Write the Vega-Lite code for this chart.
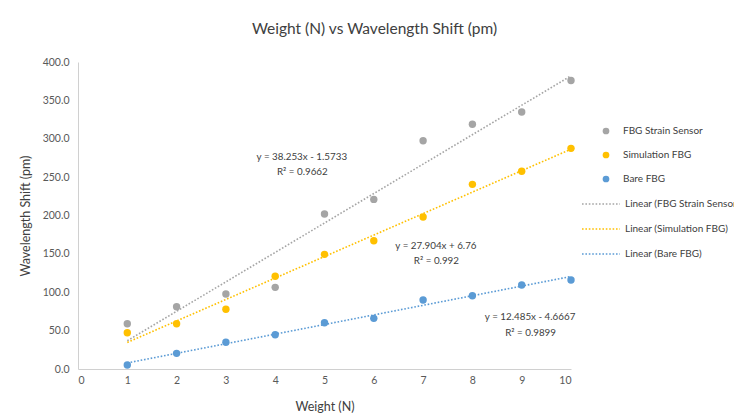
{
  "$schema": "https://vega.github.io/schema/vega-lite/v6.json",
  "width": 493,
  "height": 307,
  "autosize": {"type": "none"},
  "padding": {"left": 78, "top": 62, "right": 163, "bottom": 50},
  "background": "white",
  "config": {
    "view": {"stroke": null},
    "font": "Lato",
    "axis": {"labelFont": "Lato", "titleFont": "Lato", "labelColor": "#595959", "titleColor": "#404040", "labelFontSize": 10.5, "titleFontSize": 12.5, "titleFontWeight": "normal", "grid": false, "ticks": false, "domainColor": "#D0D0D0", "domainWidth": 1}
  },
  "title": {"text": "Weight (N) vs Wavelength Shift (pm)", "font": "Lato", "fontSize": 15.5, "fontWeight": "normal", "color": "#404040", "dx": 50, "offset": 20},
  "datasets": {
    "obs": [
      {"weight": 1, "shift": 59, "series": "FBG Strain Sensor"},
      {"weight": 2, "shift": 81, "series": "FBG Strain Sensor"},
      {"weight": 3, "shift": 97.7, "series": "FBG Strain Sensor"},
      {"weight": 4, "shift": 106.4, "series": "FBG Strain Sensor"},
      {"weight": 5, "shift": 202, "series": "FBG Strain Sensor"},
      {"weight": 6, "shift": 221, "series": "FBG Strain Sensor"},
      {"weight": 7, "shift": 297.5, "series": "FBG Strain Sensor"},
      {"weight": 8, "shift": 318.8, "series": "FBG Strain Sensor"},
      {"weight": 9, "shift": 334.9, "series": "FBG Strain Sensor"},
      {"weight": 10, "shift": 376, "series": "FBG Strain Sensor"},
      {"weight": 1, "shift": 47.3, "series": "Simulation FBG"},
      {"weight": 2, "shift": 59, "series": "Simulation FBG"},
      {"weight": 3, "shift": 77.8, "series": "Simulation FBG"},
      {"weight": 4, "shift": 120.8, "series": "Simulation FBG"},
      {"weight": 5, "shift": 149.4, "series": "Simulation FBG"},
      {"weight": 6, "shift": 167.2, "series": "Simulation FBG"},
      {"weight": 7, "shift": 198, "series": "Simulation FBG"},
      {"weight": 8, "shift": 240.6, "series": "Simulation FBG"},
      {"weight": 9, "shift": 257.6, "series": "Simulation FBG"},
      {"weight": 10, "shift": 287.5, "series": "Simulation FBG"},
      {"weight": 1, "shift": 5.2, "series": "Bare FBG"},
      {"weight": 2, "shift": 20.4, "series": "Bare FBG"},
      {"weight": 3, "shift": 34.8, "series": "Bare FBG"},
      {"weight": 4, "shift": 44.7, "series": "Bare FBG"},
      {"weight": 5, "shift": 60.3, "series": "Bare FBG"},
      {"weight": 6, "shift": 66, "series": "Bare FBG"},
      {"weight": 7, "shift": 89.9, "series": "Bare FBG"},
      {"weight": 8, "shift": 95.5, "series": "Bare FBG"},
      {"weight": 9, "shift": 109.4, "series": "Bare FBG"},
      {"weight": 10, "shift": 116, "series": "Bare FBG"}
    ],
    "notes": [
      {"weight": 4.54, "shift": 276.2, "label": "y = 38.253x - 1.5733"},
      {"weight": 4.55, "shift": 256.7, "label": "R² = 0.9662"},
      {"weight": 7.26, "shift": 160.7, "label": "y = 27.904x + 6.76"},
      {"weight": 7.27, "shift": 141.1, "label": "R² = 0.992"},
      {"weight": 9.17, "shift": 67.4, "label": "y = 12.485x - 4.6667"},
      {"weight": 9.18, "shift": 46.4, "label": "R² = 0.9899"}
    ]
  },
  "encoding": {
    "x": {"field": "weight", "type": "quantitative", "title": "Weight (N)", "scale": {"domain": [0, 10], "nice": false}, "axis": {"values": [0, 1, 2, 3, 4, 5, 6, 7, 8, 9, 10], "labelPadding": 6, "titlePadding": 15}},
    "y": {"field": "shift", "type": "quantitative", "title": "Wavelength Shift (pm)", "scale": {"domain": [0, 400], "nice": false}, "axis": {"values": [0, 50, 100, 150, 200, 250, 300, 350, 400], "format": ".1f", "labelPadding": 9, "titlePadding": 10}}
  },
  "layer": [
    {
      "data": {"name": "obs"},
      "mark": {"type": "point", "filled": true, "opacity": 1, "size": 55},
      "encoding": {
        "color": {
          "field": "series", "type": "nominal",
          "scale": {"domain": ["FBG Strain Sensor", "Simulation FBG", "Bare FBG"], "range": ["#A5A5A5", "#FFC000", "#5B9BD5"]},
          "legend": {"title": null, "orient": "none", "legendX": 503, "legendY": 64, "symbolType": "circle", "symbolSize": 45, "symbolOffset": 20, "labelFont": "Lato", "labelFontSize": 10, "labelColor": "#404040", "labelOffset": 12, "rowPadding": 14}
        }
      }
    },
    {
      "data": {"name": "obs"},
      "transform": [
        {"regression": "shift", "on": "weight", "groupby": ["series"], "extent": [1, 10]},
        {"calculate": "'Linear (' + datum.series + ')'", "as": "trend"}
      ],
      "mark": {"type": "line", "strokeWidth": 1.6, "strokeDash": [1.6, 1.8]},
      "encoding": {
        "stroke": {
          "field": "trend", "type": "nominal",
          "scale": {"domain": ["Linear (FBG Strain Sensor)", "Linear (Simulation FBG)", "Linear (Bare FBG)"], "range": ["#A5A5A5", "#FFC000", "#5B9BD5"]},
          "legend": {"title": null, "orient": "none", "legendX": 503, "legendY": 122, "symbolType": "stroke", "symbolSize": 1444, "symbolDash": [1.6, 1.8], "symbolStrokeWidth": 1.6, "labelFont": "Lato", "labelFontSize": 10, "labelColor": "#404040", "labelOffset": 4, "rowPadding": -3.6, "labelLimit": 300}
        }
      }
    },
    {
      "data": {"name": "notes"},
      "mark": {"type": "text", "font": "Lato", "fontSize": 9.8, "color": "#404040", "align": "center", "baseline": "middle"},
      "encoding": {
        "text": {"field": "label"}
      }
    }
  ]
}
